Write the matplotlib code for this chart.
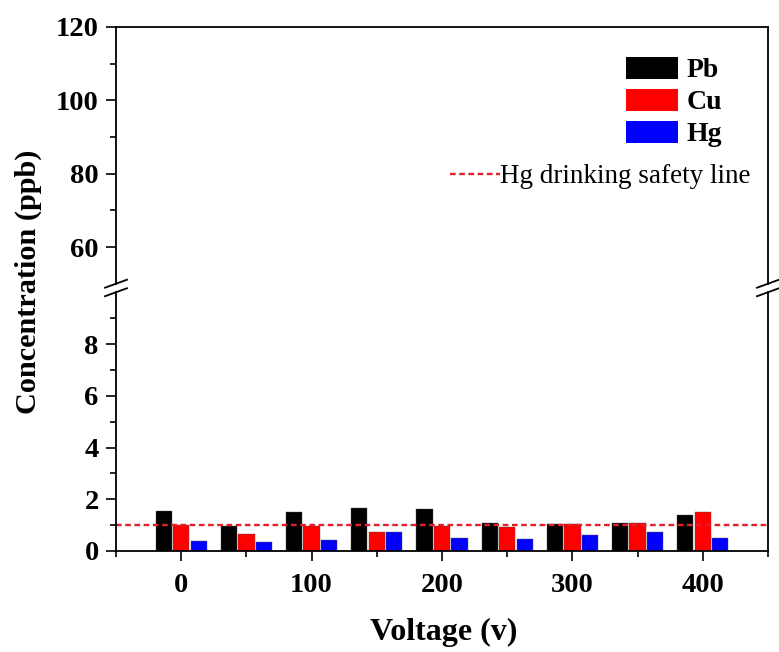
import matplotlib
matplotlib.use("Agg")
import matplotlib.pyplot as plt
from matplotlib.lines import Line2D
from matplotlib.patches import Patch
from matplotlib.ticker import FixedLocator
import numpy as np

voltage = [0, 50, 100, 150, 200, 250, 300, 350, 400]
pb = [1.54, 0.98, 1.50, 1.65, 1.62, 1.08, 1.04, 1.09, 1.41]
cu = [1.02, 0.65, 0.98, 0.75, 0.97, 0.91, 1.05, 1.10, 1.51]
hg = [0.39, 0.35, 0.43, 0.73, 0.52, 0.45, 0.63, 0.73, 0.52]
safety = 1.0
labels = ["Pb", "Cu", "Hg"]
colors = ["#000000", "#ff0000", "#0000ff"]

plt.rcParams['font.family'] = ['Liberation Serif', 'DejaVu Serif']

W, H = 779, 652
fig = plt.figure(figsize=(W / 100, H / 100), dpi=100)

left = 116 / W
width = (768 - 116) / W
y_top_px, y_up_bot_px = 27, 283.7
y_low_top_px, y_low_bot_px = 292.25, 551
ax_up = fig.add_axes([left, 1 - y_up_bot_px / H, width, (y_up_bot_px - y_top_px) / H])
ax_lo = fig.add_axes([left, 1 - y_low_bot_px / H, width, (y_low_bot_px - y_low_top_px) / H])

bw = 12.5
off = 13.4
x = np.array(voltage, dtype=float)
series = [pb, cu, hg]
for ax in (ax_up, ax_lo):
    for i, (vals, c) in enumerate(zip(series, colors)):
        ax.bar(x + (i - 1) * off, vals, width=bw, color=c, edgecolor='#555555', linewidth=0.3)
    ax.set_xlim(-50, 450)
    for s in ax.spines.values():
        s.set_linewidth(1.3)

dash = (0, (2.4, 1.5))
ax_lo.axhline(safety, color='#e0202a', lw=1.7, linestyle=dash)

ax_up.set_ylim(50, 120)
ax_lo.set_ylim(0, 10)

ax_up.spines['bottom'].set_visible(False)
ax_lo.spines['top'].set_visible(False)
ax_up.tick_params(axis='x', which='both', bottom=False, labelbottom=False, top=False)

ax_up.yaxis.set_major_locator(FixedLocator([60, 80, 100, 120]))
ax_up.yaxis.set_minor_locator(FixedLocator([70, 90, 110]))
ax_lo.yaxis.set_major_locator(FixedLocator([0, 2, 4, 6, 8]))
ax_lo.yaxis.set_minor_locator(FixedLocator([1, 3, 5, 7, 9]))
ax_lo.xaxis.set_major_locator(FixedLocator([0, 100, 200, 300, 400]))
ax_lo.xaxis.set_minor_locator(FixedLocator([-50, 50, 150, 250, 350, 450]))

for ax in (ax_up, ax_lo):
    ax.tick_params(axis='y', which='major', direction='out', length=7.5, width=1.2,
                   labelsize=20.5, pad=5, right=False)
    ax.tick_params(axis='y', which='minor', direction='out', length=4.5, width=1.2, right=False)
    for lab in ax.get_yticklabels():
        lab.set_fontweight('bold')
ax_lo.tick_params(axis='x', which='major', direction='out', length=7.5, width=1.2,
                  labelsize=20.5, pad=8)
ax_lo.tick_params(axis='x', which='minor', direction='out', length=4.5, width=1.2)
for lab in ax_lo.get_xticklabels():
    lab.set_fontweight('bold')

# break marks
for xp in (116, 768):
    for yp in (y_up_bot_px, y_low_top_px):
        fig.add_artist(Line2D([(xp - 11) / W, (xp + 11) / W],
                              [1 - (yp + 4) / H, 1 - (yp - 4) / H],
                              color='black', lw=1.3, transform=fig.transFigure))

fig.text(28 / W, 1 - 282 / H, "Concentration (ppb)", rotation=90, ha='center', va='center',
         fontsize=21.8, fontweight='bold')
fig.text(444 / W, 1 - 632 / H, "Voltage (v)", ha='center', va='center',
         fontsize=23, fontweight='bold')

handles = [Patch(facecolor=c, edgecolor='none') for c in colors]
leg1 = ax_up.legend(handles, labels, loc='upper left', bbox_to_anchor=(626 / W, 1 - 57 / H),
                    bbox_transform=fig.transFigure, frameon=False, borderpad=0, borderaxespad=0,
                    handlelength=1.87, handleheight=0.82, handletextpad=0.3,
                    labelspacing=0.2, prop={'family': 'Liberation Serif', 'weight': 'bold', 'size': 20})
ax_up.add_artist(leg1)
line_h = Line2D([0], [0], color='#e0202a', lw=1.7, linestyle=dash)
leg2 = ax_up.legend([line_h], ["Hg drinking safety line"], loc='upper left',
                    bbox_to_anchor=(450 / W, 1 - 164 / H), bbox_transform=fig.transFigure,
                    frameon=False, borderpad=0, borderaxespad=0, handlelength=1.85, handletextpad=0.0,
                    prop={'family': 'Liberation Serif', 'size': 19.5})

fig.savefig("out.png", dpi=100)
